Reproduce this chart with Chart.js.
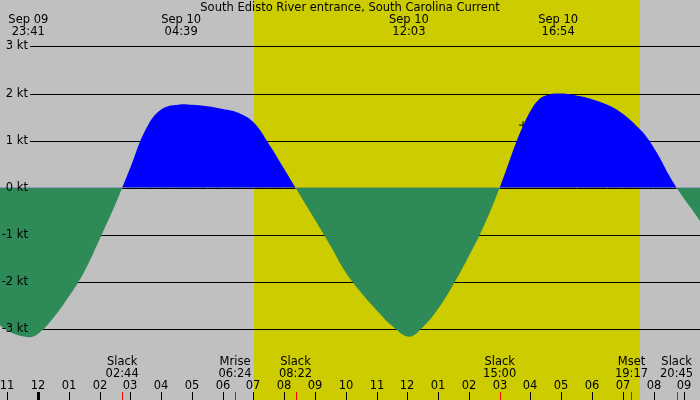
<!DOCTYPE html>
<html>
<head>
<meta charset="utf-8">
<script src="https://cdn.jsdelivr.net/npm/chart.js@4"></script>
<style>
    html, body { margin: 0; padding: 0; background: #c0c0c0; }
    #wrap { width: 700px; height: 400px; }
</style>
</head>
<body>
<div id="wrap"><canvas id="tideChart" width="700" height="400"></canvas></div>
<script>
// Time axis: hours since Sep 09 00:00
const hours = [22.5, 23, 23.683, 24, 24.5, 25, 25.5, 26, 26.5, 26.733,
    27, 27.5, 28, 28.65, 29, 29.5, 30, 30.5, 31, 31.5, 32, 32.367,
    33, 33.5, 34, 34.5, 35, 35.5, 36.05, 36.5, 37, 37.5, 38, 38.5, 39,
    39.5, 39.75, 40, 40.25, 40.5, 40.9, 41.5, 42, 42.5, 43, 43.5, 43.75, 44, 44.25, 44.5, 44.75,
    45, 45.5, 46];
// Current speed in knots (flood positive, ebb negative)
const current = [-2.75, -3.03, -3.17, -3.10, -2.76, -2.31, -1.78, -1.09, -0.37, 0,
    0.43, 1.24, 1.66, 1.77, 1.76, 1.73, 1.67, 1.59, 1.39, 0.93, 0.40, 0,
    -0.68, -1.23, -1.80, -2.23, -2.60, -2.93, -3.16, -2.96, -2.57, -2.05, -1.45, -0.79, 0,
    0.90, 1.30, 1.63, 1.86, 1.96, 2.00, 1.96, 1.88, 1.76, 1.57, 1.28, 1.10, 0.86, 0.58, 0.27, 0,
    -0.24, -0.70, -1.30];

const gridKnots = [-3, -2, -1, 0, 1, 2, 3];
const tickHours = [23, 24, 25, 26, 27, 28, 29, 30, 31, 32, 33, 34, 35, 36, 37, 38, 39, 40, 41, 42, 43, 44, 45];
const tickLabels = ['11', '12', '01', '02', '03', '04', '05', '06', '07', '08', '09', '10',
    '11', '12', '01', '02', '03', '04', '05', '06', '07', '08', '09'];
const midnightHour = 24;

const daylight = [31.02, 43.56]; // sunrise, sunset

const peakHours = [23.683, 28.65, 36.05, 40.9];
const peakDates = ['Sep 09', 'Sep 10', 'Sep 10', 'Sep 10'];
const peakTimes = ['23:41', '04:39', '12:03', '16:54'];

const eventHours = [26.733, 30.4, 32.367, 39, 43.283, 44.75];
const eventNames = ['Slack', 'Mrise', 'Slack', 'Slack', 'Mset', 'Slack'];
const eventTimes = ['02:44', '06:24', '08:22', '15:00', '19:17', '20:45'];

const nowMark = [39.76, 1.33];

const chartTitle = 'South Edisto River entrance, South Carolina Current';
const FONT = '11.5px "DejaVu Sans"';

const tideDecor = {
    id: 'tideDecor',
    beforeDraw(chart) {
        const { ctx, scales: { x, y } } = chart;
        ctx.save();
        ctx.fillStyle = '#c0c0c0';
        ctx.fillRect(0, 0, chart.width, chart.height);
        const sx = x.getPixelForValue(daylight[0]);
        const ex = x.getPixelForValue(daylight[1]);
        ctx.fillStyle = '#cccc00';
        ctx.fillRect(Math.round(sx), 0, Math.round(ex) - Math.round(sx), chart.height);

        // horizontal knot lines (zero line is drawn later, under the flood only)
        ctx.strokeStyle = '#000';
        ctx.lineWidth = 1;
        gridKnots.forEach(v => {
            if (v === 0) return;
            const py = Math.round(y.getPixelForValue(v)) + 0.5;
            ctx.beginPath();
            ctx.moveTo(30, py);
            ctx.lineTo(chart.width, py);
            ctx.stroke();
        });
        ctx.restore();
    },
    afterDatasetsDraw(chart) {
        const { ctx, scales: { x, y } } = chart;
        ctx.save();

        // zero line where the current is flooding
        const y0 = Math.round(y.getPixelForValue(0)) + 0.5;
        ctx.strokeStyle = '#000';
        ctx.lineWidth = 1;
        for (let i = 0; i < hours.length - 1; i++) {
            if (current[i] >= 0 && current[i + 1] >= 0) {
                ctx.beginPath();
                ctx.moveTo(x.getPixelForValue(hours[i]), y0);
                ctx.lineTo(x.getPixelForValue(hours[i + 1]), y0);
                ctx.stroke();
            }
        }

        ctx.font = FONT;
        ctx.fillStyle = '#000';
        ctx.textBaseline = 'middle';

        // knot labels
        ctx.textAlign = 'right';
        gridKnots.forEach(v => {
            ctx.fillText(v + ' kt', 28, y.getPixelForValue(v));
        });

        // title and peak labels
        ctx.textAlign = 'center';
        ctx.fillText(chartTitle, 350, 8);
        peakHours.forEach((h, i) => {
            const px = x.getPixelForValue(h);
            ctx.fillText(peakDates[i], px, 20);
            ctx.fillText(peakTimes[i], px, 32);
        });

        // slack / moon events
        eventHours.forEach((h, i) => {
            const px = x.getPixelForValue(h);
            ctx.fillText(eventNames[i], px, 362);
            ctx.fillText(eventTimes[i], px, 374);
        });

        // hour ticks and labels
        tickHours.forEach((h, i) => {
            const px = Math.round(x.getPixelForValue(h));
            ctx.fillText(tickLabels[i], px, 386);
            if (h === midnightHour) {
                ctx.fillRect(px - 1, 392, 3, 8);
            } else {
                ctx.fillRect(px, 392, 1, 8);
            }
        });
        ctx.fillStyle = '#ff0000';
        eventHours.forEach(h => {
            const px = Math.round(x.getPixelForValue(h));
            ctx.fillRect(px, 392, 1, 8);
        });
        ctx.restore();
    }
};

document.addEventListener('DOMContentLoaded', function() {
    const ctx = document.getElementById('tideChart');
    new Chart(ctx, {
        type: 'line',
        data: {
            datasets: [{
                data: hours.map((h, i) => ({ x: h, y: current[i] })),
                borderColor: 'rgba(0,0,0,0)',
                borderWidth: 0,
                pointRadius: 0,
                tension: 0.4,
                fill: { target: 'origin', above: '#0000ff', below: '#2e8b57' }
            }, {
                type: 'scatter',
                data: [{ x: nowMark[0], y: nowMark[1] }],
                pointStyle: 'cross',
                pointRadius: 4,
                borderColor: '#000',
                borderWidth: 1
            }]
        },
        options: {
            responsive: false,
            animation: false,
            devicePixelRatio: 1,
            layout: { padding: 0, autoPadding: false },
            plugins: {
                legend: { display: false },
                tooltip: { enabled: false }
            },
            scales: {
                x: { type: 'linear', min: 22.763, max: 45.51, display: false },
                y: { min: -4.504, max: 3.985, display: false }
            }
        },
        plugins: [tideDecor]
    });
});
</script>
</body>
</html>
